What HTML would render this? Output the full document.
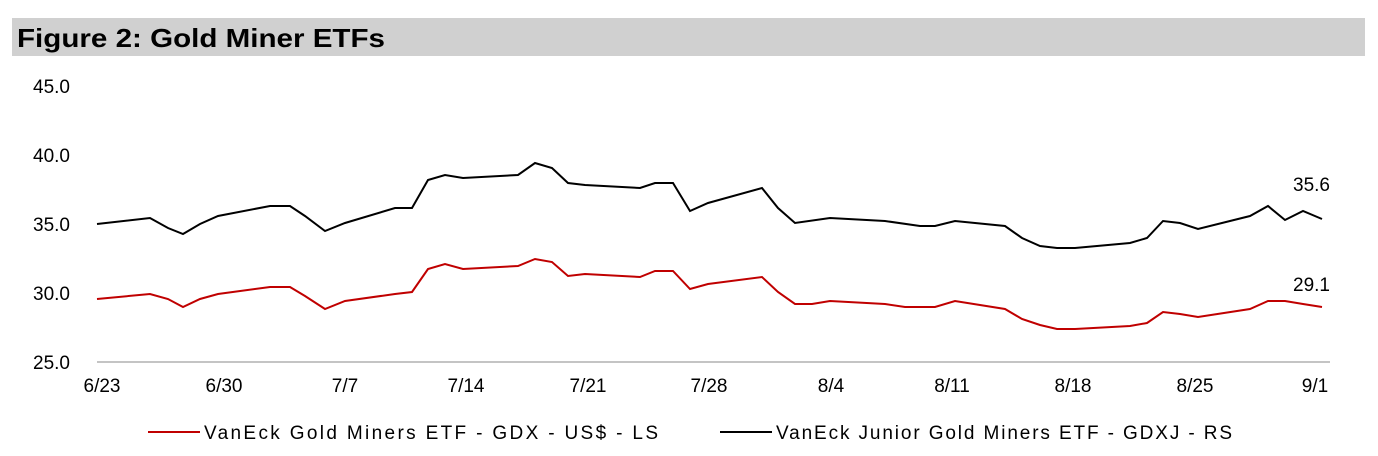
<!DOCTYPE html>
<html><head><meta charset="utf-8"><style>
body{margin:0;background:#fff;width:1378px;height:451px;overflow:hidden;font-family:"Liberation Sans",Arial,sans-serif}
</style></head><body>
<svg width="1378" height="451" xmlns="http://www.w3.org/2000/svg" font-family="Liberation Sans, Arial, sans-serif">
<rect x="12" y="18" width="1353" height="38" fill="#d0d0d0"/>
<text x="17" y="47" font-size="26" font-weight="bold" fill="#000" textLength="368" lengthAdjust="spacingAndGlyphs">Figure 2: Gold Miner ETFs</text>
<g font-size="19" fill="#000" text-anchor="end">
<text x="70" y="93">45.0</text><text x="70" y="162">40.0</text><text x="70" y="231">35.0</text><text x="70" y="300">30.0</text><text x="70" y="369">25.0</text>
</g>
<line x1="97" y1="362" x2="1330" y2="362" stroke="#888" stroke-width="1"/>
<g font-size="19" fill="#000" text-anchor="middle">
<text x="102" y="392">6/23</text><text x="224" y="392">6/30</text><text x="345" y="392">7/7</text><text x="466" y="392">7/14</text><text x="588" y="392">7/21</text><text x="709" y="392">7/28</text><text x="831" y="392">8/4</text><text x="952" y="392">8/11</text><text x="1073" y="392">8/18</text><text x="1195" y="392">8/25</text><text x="1315" y="392">9/1</text>
</g>
<polyline fill="none" stroke="#000" stroke-width="2" points="97,224 150,218 168,228 183,234 200,224 218,216 270,206 290,206 305,216 325,231 345,223 395,208 412,208 428,180 445,175 463,178 518,175 535,163 552,168 568,183 585,185 640,188 655,183 673,183 690,211 708,203 762,188 778,208 795,223 830,218 885,221 920,226 935,226 955,221 1005,226 1022,238 1040,246 1057,248 1075,248 1130,243 1147,238 1163,221 1180,223 1198,229 1250,216 1268,206 1285,220 1303,211 1322,219"/>
<polyline fill="none" stroke="#c00000" stroke-width="2" points="97,299 150,294 168,299 183,307 200,299 218,294 270,287 290,287 305,296 325,309 345,301 395,294 412,292 428,269 445,264 463,269 518,266 535,259 552,262 568,276 585,274 640,277 655,271 673,271 690,289 708,284 762,277 778,292 795,304 812,304 830,301 885,304 905,307 935,307 955,301 1005,309 1022,319 1040,325 1057,329 1075,329 1130,326 1147,323 1163,312 1180,314 1198,317 1250,309 1268,301 1285,301 1303,304 1322,307"/>
<text x="1293" y="191" font-size="19">35.6</text>
<text x="1293" y="291" font-size="19">29.1</text>
<line x1="148" y1="432" x2="200" y2="432" stroke="#c00000" stroke-width="2"/>
<text x="204" y="439" font-size="19" textLength="454" lengthAdjust="spacing">VanEck Gold Miners ETF  - GDX  - US$ - LS</text>
<line x1="720" y1="432" x2="772" y2="432" stroke="#000" stroke-width="2"/>
<text x="776" y="439" font-size="19" textLength="456" lengthAdjust="spacing">VanEck Junior Gold Miners ETF - GDXJ - RS</text>
</svg>
</body></html>
